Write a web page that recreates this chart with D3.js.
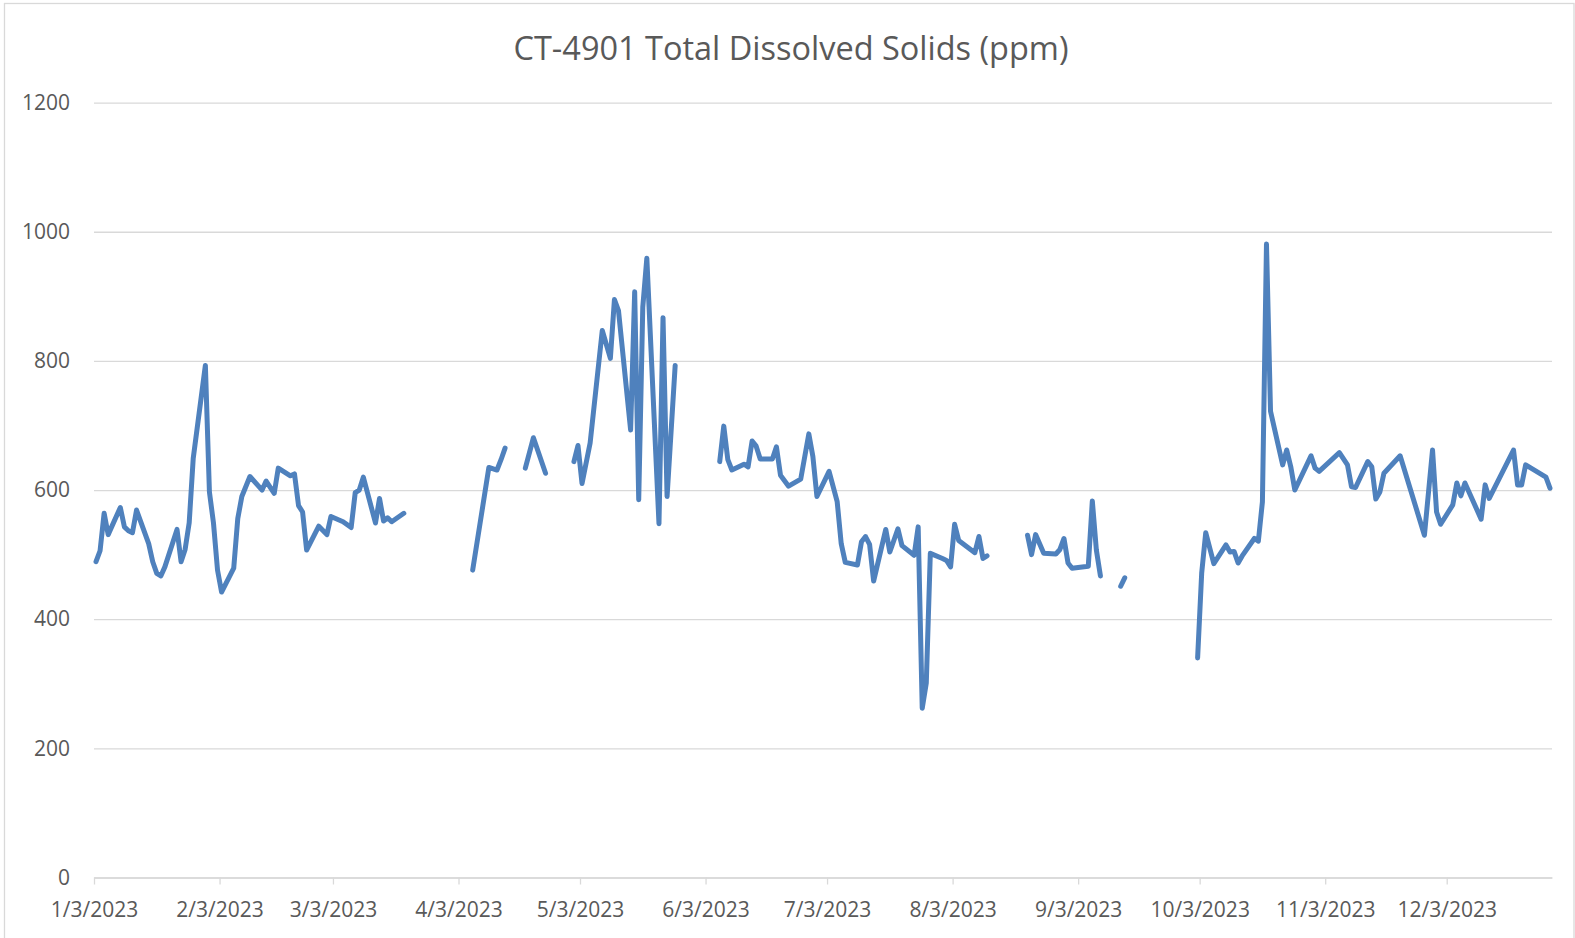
<!DOCTYPE html>
<html>
<head>
<meta charset="utf-8">
<script src="https://cdn.jsdelivr.net/npm/d3@7"></script>
<style>
  body { margin: 0; background: #ffffff; }
  svg { display: block; }
</style>
</head>
<body>
<svg id="chart" width="1575" height="938"></svg>
<script>
// ---------------- DATA ----------------
const chartTitle = "CT-4901 Total Dissolved Solids (ppm)";

const dates = [
  "2023-01-03","2023-01-04","2023-01-05","2023-01-06","2023-01-09","2023-01-10","2023-01-11","2023-01-12","2023-01-13",
  "2023-01-16","2023-01-17","2023-01-18","2023-01-19","2023-01-20","2023-01-23","2023-01-24","2023-01-25","2023-01-26",
  "2023-01-27","2023-01-30","2023-01-31","2023-02-01","2023-02-02","2023-02-03","2023-02-06","2023-02-07","2023-02-08",
  "2023-02-10","2023-02-13","2023-02-14","2023-02-16","2023-02-17","2023-02-20","2023-02-21","2023-02-22","2023-02-23",
  "2023-02-24","2023-02-27","2023-03-01","2023-03-02","2023-03-05","2023-03-07","2023-03-08","2023-03-09","2023-03-10",
  "2023-03-13","2023-03-14","2023-03-15","2023-03-16","2023-03-17","2023-03-20","2023-03-21",
  "2023-04-06","2023-04-10","2023-04-12","2023-04-13","2023-04-14","2023-04-15",
  "2023-04-19","2023-04-21","2023-04-24","2023-04-25",
  "2023-05-01","2023-05-02","2023-05-03","2023-05-05","2023-05-08","2023-05-10","2023-05-11","2023-05-12","2023-05-15",
  "2023-05-16","2023-05-17","2023-05-18","2023-05-19","2023-05-22","2023-05-23","2023-05-24","2023-05-26","2023-05-27",
  "2023-06-06","2023-06-07","2023-06-08","2023-06-09","2023-06-12","2023-06-13","2023-06-14","2023-06-15","2023-06-16",
  "2023-06-19","2023-06-20","2023-06-21","2023-06-23","2023-06-26","2023-06-28","2023-06-29","2023-06-30","2023-07-03",
  "2023-07-05","2023-07-06","2023-07-07","2023-07-10","2023-07-11","2023-07-12","2023-07-13","2023-07-14","2023-07-17",
  "2023-07-18","2023-07-20","2023-07-21","2023-07-24","2023-07-25","2023-07-26","2023-07-27","2023-07-28","2023-07-31",
  "2023-08-01","2023-08-02","2023-08-03","2023-08-04","2023-08-08","2023-08-09","2023-08-10","2023-08-11","2023-08-12",
  "2023-08-21","2023-08-22","2023-08-23","2023-08-25","2023-08-28","2023-08-29","2023-08-30","2023-08-31","2023-09-01",
  "2023-09-05","2023-09-06","2023-09-07","2023-09-08","2023-09-09",
  "2023-09-13","2023-09-14","2023-09-15",
  "2023-10-02","2023-10-03","2023-10-04","2023-10-06","2023-10-09","2023-10-10","2023-10-11","2023-10-12","2023-10-13",
  "2023-10-16","2023-10-17","2023-10-18","2023-10-19","2023-10-20","2023-10-23","2023-10-24","2023-10-25","2023-10-26",
  "2023-10-30","2023-10-31","2023-11-01","2023-11-06","2023-11-08","2023-11-09","2023-11-10","2023-11-13","2023-11-14",
  "2023-11-15","2023-11-16","2023-11-17","2023-11-21","2023-11-27","2023-11-29","2023-11-30","2023-12-01","2023-12-04",
  "2023-12-05","2023-12-06","2023-12-07","2023-12-11","2023-12-12","2023-12-13","2023-12-19","2023-12-20","2023-12-21",
  "2023-12-22","2023-12-27","2023-12-28"
];

const tds = [
  489, 506, 564, 531, 573, 543, 537, 534, 569,
  517, 489, 471, 467, 481, 539, 489, 508, 549,
  649, 793, 597, 549, 476, 442, 479, 556, 590,
  621, 600, 614, 595, 634, 622, 625, 576, 566,
  507, 544, 531, 559, 551, 542, 596, 600, 620,
  549, 587, 552, 557, 551, 564, null,
  476, 635, 631, 647, 665, null,
  634, 681, 626, null,
  644, 669, 610, 673, 847, 804, 895, 878, 693,
  907, 585, 883, 959, 548, 867, 590, 793, null,
  644, 699, 647, 631, 640, 636, 676, 668, 648,
  648, 667, 623, 606, 617, 687, 652, 590, 629,
  582, 517, 488, 484, 520, 528, 516, 459, 539,
  504, 540, 514, 499, 543, 262, 301, 502, 494,
  491, 481, 547, 522, 503, 528, 494, 498, null,
  530, 500, 531, 502, 501, 508, 525, 487, 479,
  482, 583, 507, 467, null,
  451, 464, null,
  340, 471, 534, 486, 515, 504, 505, 487, 498,
  525, 521, 582, 981, 722, 639, 662, 636, 600,
  653, 634, 629, 658, 639, 605, 604, 644, 636,
  586, 597, 626, 653, 530, 662, 566, 547, 577,
  611, 591, 611, 555, 608, 587, 662, 608, 608,
  639, 620, 603
];

const yTickValues = [0, 200, 400, 600, 800, 1000, 1200];
const xTickDates = ["2023-01-03","2023-02-03","2023-03-03","2023-04-03","2023-05-03","2023-06-03",
                    "2023-07-03","2023-08-03","2023-09-03","2023-10-03","2023-11-03","2023-12-03"];
const xDomain = ["2023-01-03","2023-12-29"];

// ---------------- CHART ----------------
const parse = d3.utcParse("%Y-%m-%d");
const fmt = d3.utcFormat("%-m/%-d/%Y");
const data = dates.map((d, i) => ({ date: d3.utcHour.offset(parse(d), 12), value: tds[i] }));

const svg = d3.select("#chart");
const FONT = "'Open Sans', 'Liberation Sans', sans-serif";
const TXT = "#595959";

const plot = { left: 94, right: 1552, top: 102.6, bottom: 877.5 };

const x = d3.scaleUtc().domain(xDomain.map(parse)).range([plot.left, plot.right]);
const y = d3.scaleLinear().domain([0, 1200]).range([plot.bottom, plot.top]);

// chart border
svg.append("rect")
  .attr("x", 4.5).attr("y", 3.5).attr("width", 1569.5).attr("height", 945)
  .attr("fill", "none").attr("stroke", "#d9d9d9").attr("stroke-width", 1.3);

// title
const t = svg.append("text")
  .attr("x", 791).attr("y", 60)
  .attr("text-anchor", "middle")
  .attr("font-family", FONT).attr("font-size", 33)
  .attr("fill", TXT)
  .text(chartTitle);
const tl = t.node().getComputedTextLength();
if (tl > 555) t.attr("textLength", 555).attr("lengthAdjust", "spacingAndGlyphs");

// y axis with gridlines
const yAxis = d3.axisLeft(y)
  .tickValues(yTickValues)
  .tickFormat(d3.format("d"))
  .tickSizeInner(-(plot.right - plot.left))
  .tickSizeOuter(0)
  .tickPadding(24);
const gy = svg.append("g").attr("transform", `translate(${plot.left},0)`).call(yAxis);
gy.select(".domain").remove();
gy.selectAll(".tick line").attr("stroke", "#d9d9d9").attr("stroke-width", 1.3);
gy.selectAll(".tick text").attr("font-family", FONT).attr("font-size", 21).attr("fill", TXT);

// x axis
const xAxis = d3.axisBottom(x)
  .tickValues(xTickDates.map(parse))
  .tickFormat(fmt)
  .tickSizeInner(7)
  .tickSizeOuter(0)
  .tickPadding(18);
const gx = svg.append("g").attr("transform", `translate(0,${plot.bottom})`).call(xAxis);
gx.select(".domain").attr("stroke", "#d9d9d9").attr("stroke-width", 1.3);
gx.selectAll(".tick line").attr("stroke", "#d9d9d9").attr("stroke-width", 1.3);
gx.selectAll(".tick text").attr("font-family", FONT).attr("font-size", 21).attr("fill", TXT);

// series line
const line = d3.line()
  .defined(d => d.value !== null)
  .x(d => x(d.date))
  .y(d => y(d.value));

svg.append("path")
  .datum(data)
  .attr("d", line)
  .attr("fill", "none")
  .attr("stroke", "#4f81bd")
  .attr("stroke-width", 5)
  .attr("stroke-linejoin", "round")
  .attr("stroke-linecap", "round");
</script>
</body>
</html>
